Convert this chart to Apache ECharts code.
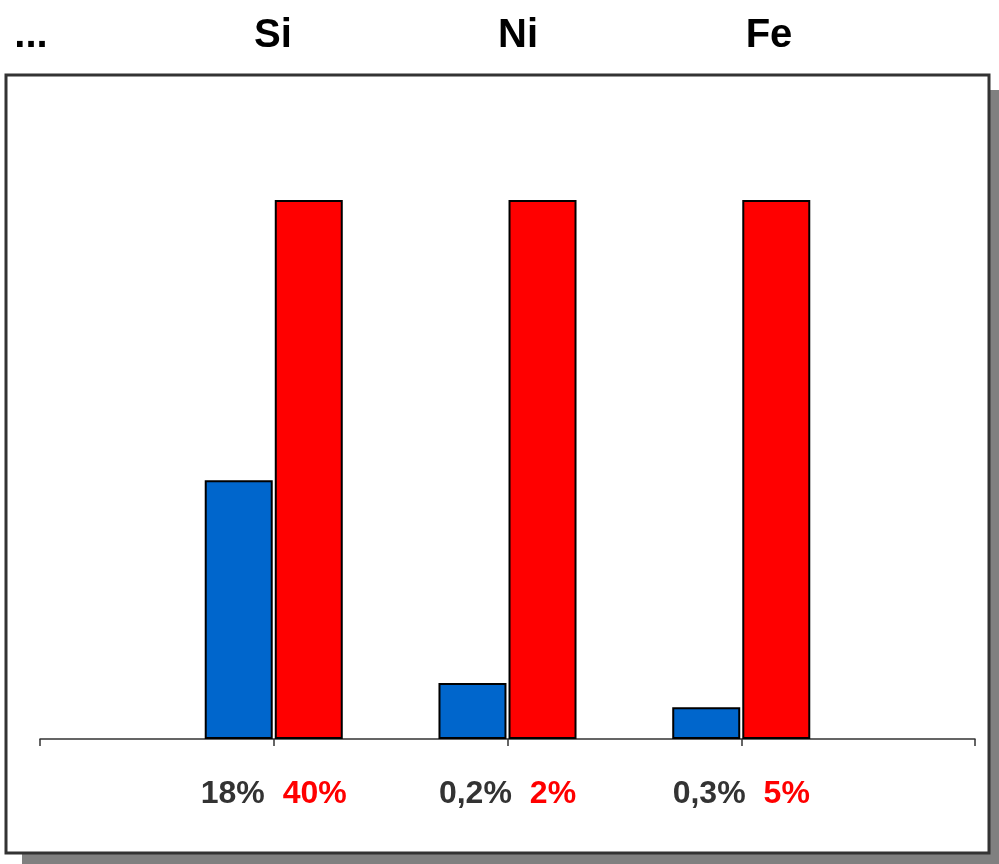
<!DOCTYPE html>
<html>
<head>
<meta charset="utf-8">
<script src="https://cdn.jsdelivr.net/npm/echarts@6/dist/echarts.min.js"></script>
<style>html,body{margin:0;padding:0;background:#fff;}#c{width:999px;height:864px;}</style>
</head>
<body>
<div id="c"></div>
<script>
var categories = ['', 'Si', 'Ni', 'Fe', ''];
var blueValues = [null, 48, 10.4, 5.9, null];
var redValues = [null, 100, 100, 100, null];
var blueLabels = ['', '18%', '0,2%', '0,3%', ''];
var redLabels = ['', '40%', '2%', '5%', ''];
var headerLabels = ['...', 'Si', 'Ni', 'Fe'];

var chart = echarts.init(document.getElementById('c'));
var FONT = '"Liberation Sans", Arial, sans-serif';
var headerX = [31, 273, 518, 769];
var headerGraphics = headerLabels.map(function (t, i) {
  return {
    type: 'text', x: headerX[i], y: 36, z: 10,
    style: { text: t, fill: '#000', font: 'bold 40px ' + FONT, textAlign: 'center', textVerticalAlign: 'middle' }
  };
});
chart.setOption({
  animation: false,
  backgroundColor: '#fff',
  graphic: [
    { type: 'rect', z: -20, shape: { x: 22, y: 90, width: 977, height: 774 }, style: { fill: '#808080' } },
    { type: 'rect', z: -10, shape: { x: 6, y: 75, width: 983, height: 778 }, style: { fill: '#fff', stroke: '#333', lineWidth: 3 } }
  ].concat(headerGraphics),
  grid: { left: 40, right: 24, top: 200, bottom: 125, containLabel: false },
  xAxis: {
    type: 'category',
    data: categories,
    boundaryGap: false,
    axisLine: { lineStyle: { color: '#333', width: 1.5 } },
    axisTick: { show: true, length: 7, lineStyle: { color: '#333', width: 1.5 } },
    axisLabel: {
      interval: 0,
      margin: 39,
      formatter: function (v, idx) {
        if (!blueLabels[idx]) return '';
        return '{b|' + blueLabels[idx] + '}{s|}{r|' + redLabels[idx] + '}';
      },
      rich: {
        b: { color: '#333', fontSize: 32, fontWeight: 'bold', fontFamily: FONT },
        s: { width: 18 },
        r: { color: '#ff0000', fontSize: 32, fontWeight: 'bold', fontFamily: FONT }
      }
    }
  },
  yAxis: {
    type: 'value', min: 0, max: 100,
    show: false, splitLine: { show: false }
  },
  series: [
    {
      type: 'bar', data: blueValues, barWidth: 68, barGap: '3%',
      itemStyle: { color: '#0066cc', borderColor: '#000', borderWidth: 2 }
    },
    {
      type: 'bar', data: redValues, barWidth: 68,
      itemStyle: { color: '#ff0000', borderColor: '#000', borderWidth: 2 }
    }
  ]
});
</script>
</body>
</html>
